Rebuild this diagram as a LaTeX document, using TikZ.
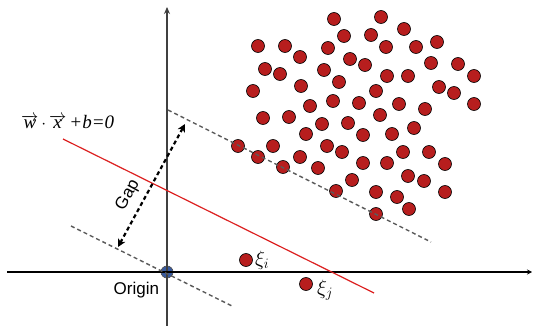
\documentclass[tikz,border=0pt]{standalone}
\usepackage{fontspec}
\setmainfont{Liberation Serif}
\setsansfont{Liberation Sans}
\usetikzlibrary{positioning,arrows.meta}

\definecolor{dotred}{RGB}{183,30,30}
\definecolor{linered}{RGB}{220,32,32}
\definecolor{marggray}{RGB}{90,90,90}
\definecolor{origblue}{RGB}{55,90,160}

\begin{document}
\begin{tikzpicture}[x=1pt,y=-1pt,
  sample/.style={circle,draw=black,line width=0.6pt,fill=dotred,inner sep=0pt,minimum size=13pt},
  margin/.style={dash pattern=on 4pt off 3pt,line width=1.4pt,draw=marggray},
  axis/.style={line width=1.2pt,-{Stealth[length=7pt,width=6pt]}},
  txt/.style={font=\sffamily\fontsize{17}{20}\selectfont}]
\useasboundingbox (0,0) rectangle (533,326);

% the two classes of samples
\foreach \x/\y [count=\i] in {334/19, 381/17, 404/29, 344/36, 371/35, 258/46, 285/46,
    328/48, 386/47, 416/47, 437/42, 300/57, 350/59, 365/65, 431/63, 458/64,
    265/69, 280/74, 324/70, 387/76, 408/76, 474/76, 253/91, 301/86, 339/82,
    376/91, 439/87, 454/93, 474/104, 310/106, 333/101, 359/103, 399/104, 425/109,
    263/118, 289/117, 322/124, 348/123, 380/115, 414/128, 306/134, 363/135, 392/134,
    238/146, 273/146, 327/146, 342/152, 403/152, 429/152, 258/157, 300/157,
    283/167, 318/168, 363/163, 387/163, 445/164, 408/176, 424/181, 352/180,
    336/191, 376/192, 397/197, 445/192, 409/209, 376/214}
  \node[sample] (s\i) at (\x,\y) {};

\node[sample] (xi) at (246,260) {};
\node[sample] (xj) at (306,284) {};
\node[inner sep=1pt,right=1pt of xi,font=\fontsize{21}{24}\selectfont] (xilab) {$\xi_i$};
\node[inner sep=1pt,right=3pt of xj,yshift=-6pt,font=\fontsize{21}{24}\selectfont] (xjlab) {$\xi_j$};

% origin and axes
\node[circle,draw=black!70,line width=0.6pt,fill=origblue,inner sep=0pt,minimum size=12pt] (origin) at (167,272) {};
\node[txt,below left=2pt and 0pt of origin] (origlab) {Origin};

\coordinate (xstart) at (7,272);
\coordinate (xend) at (532,272);
\coordinate (ystart) at (167,326);
\coordinate (yend) at (167,7);
\draw[axis,draw=black!75] (ystart) -- (yend);
\draw[axis,line width=1.8pt,-{Stealth[length=5pt,width=5pt]}] (xstart) -- (xend);

% hyperplane and margins
\coordinate (hpa) at (63,139);
\coordinate (hpb) at (374,293);
\coordinate (upa) at (168,110);
\coordinate (upb) at (431,242);
\coordinate (loa) at (71,226);
\coordinate (lob) at (232,306);
\draw[linered,line width=1.2pt] (hpa) -- (hpb);
\draw[margin] (upa) -- (upb);
\draw[margin] (loa) -- (lob);

\node[anchor=west,inner sep=0pt,font=\fontsize{19}{22}\selectfont] (eq) at (21,122)
  {$\overrightarrow{\textit{w}}\,{\cdot}\,\overrightarrow{\textit{x}}$\,\textit{+b=0}};

% gap between the margins
\coordinate (gaplo) at (118,247);
\coordinate (gaphi) at (185,124);
\draw[line width=2.2pt,dash pattern=on 4pt off 3pt,{Stealth[length=8pt,width=8pt]}-{Stealth[length=8pt,width=8pt]}]
  (gaplo) -- node[txt,pos=0.36,sloped,above=4pt] (gaplab) {Gap} (gaphi);

\end{tikzpicture}
\end{document}
